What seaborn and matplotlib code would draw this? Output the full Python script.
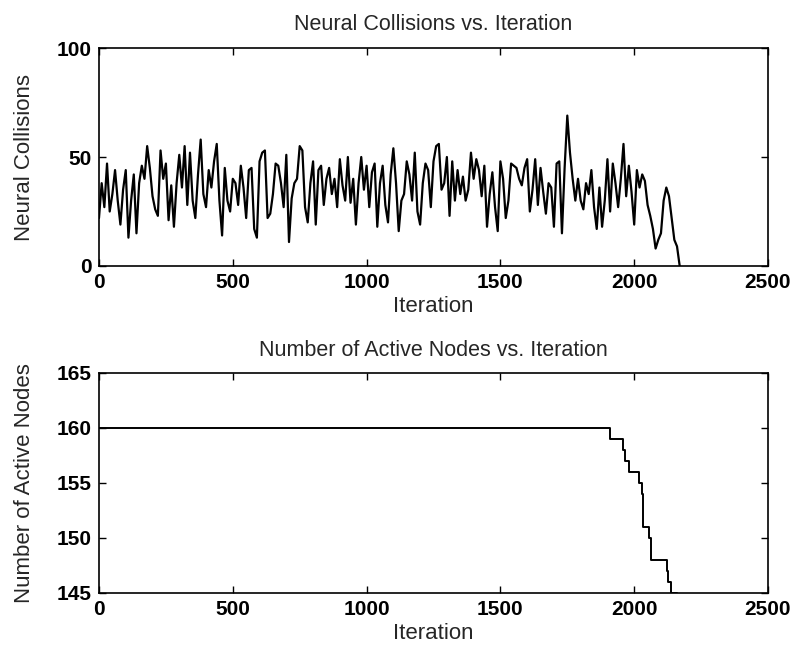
import numpy as np
import pandas as pd
import matplotlib
matplotlib.use("Agg")
import matplotlib.pyplot as plt
import seaborn as sns

# Neural collisions, sampled every 10 iterations (0 .. 2160)
collision_iter_step = 10
collisions = [
    22, 38, 27, 47, 25, 33, 44, 30, 19, 35,
    44, 13, 30, 42, 15, 38, 46, 40, 55, 45,
    32, 26, 23, 53, 40, 47, 21, 37, 18, 38,
    51, 36, 55, 28, 52, 30, 22, 42, 58, 33,
    27, 44, 36, 48, 56, 30, 14, 45, 30, 25,
    40, 38, 28, 46, 36, 22, 44, 45, 17, 13,
    48, 52, 53, 22, 24, 33, 47, 46, 38, 27,
    51, 11, 31, 38, 40, 55, 53, 27, 20, 38,
    48, 19, 44, 46, 28, 40, 45, 33, 40, 27,
    49, 37, 30, 50, 29, 40, 19, 38, 50, 35,
    46, 27, 43, 47, 18, 38, 46, 28, 20, 42,
    54, 38, 16, 30, 33, 48, 42, 30, 52, 25,
    19, 38, 47, 44, 27, 48, 55, 56, 35, 38,
    50, 23, 48, 30, 44, 33, 41, 30, 35, 52,
    40, 49, 44, 32, 46, 18, 33, 43, 27, 16,
    48, 40, 22, 30, 47, 46, 45, 40, 37, 45,
    49, 25, 35, 49, 28, 45, 34, 24, 38, 36,
    18, 47, 48, 15, 45, 69, 52, 40, 30, 40,
    30, 26, 38, 33, 44, 27, 17, 36, 18, 30,
    49, 25, 47, 38, 27, 40, 56, 32, 46, 34,
    19, 44, 36, 42, 39, 28, 23, 17, 8, 12,
    15, 30, 36, 32, 22, 12, 9, 0,
]
collision_iters = [i * collision_iter_step for i in range(len(collisions))]

# Number of active nodes: iteration at which each level starts
node_iters = [0, 1910, 1959, 1966, 1982, 2018, 2028, 2034, 2056, 2062, 2121, 2127, 2136, 2160]
active_nodes = [160, 159, 158, 157, 156, 155, 154, 151, 150, 148, 147, 146, 145, 145]

x_ticks = [0, 500, 1000, 1500, 2000, 2500]
top_yticks = [0, 50, 100]
bottom_yticks = [145, 150, 155, 160, 165]

sns.set_style("ticks")
plt.rcParams["font.family"] = ["Liberation Sans", "DejaVu Sans"]
plt.rcParams["axes.linewidth"] = 1.2
plt.rcParams["xtick.direction"] = "in"
plt.rcParams["ytick.direction"] = "in"
plt.rcParams["xtick.top"] = True
plt.rcParams["ytick.right"] = True
plt.rcParams["xtick.major.size"] = 5
plt.rcParams["ytick.major.size"] = 5

TICK_FS = 15
LABEL_FS = 16
TITLE_FS = 15.5

fig = plt.figure(figsize=(7.99, 6.55), dpi=100)
ax1 = fig.add_axes([0.1239, 0.5939, 0.8373, 0.3328])
ax2 = fig.add_axes([0.1239, 0.0947, 0.8373, 0.3359])

df_col = pd.DataFrame({"Iteration": collision_iters, "Neural Collisions": collisions})
sns.lineplot(data=df_col, x="Iteration", y="Neural Collisions", ax=ax1,
             color="black", linewidth=1.6, estimator=None, sort=False)
ax1.set_xlim(0, 2500)
ax1.set_ylim(0, 100)
ax1.set_xticks(x_ticks)
ax1.set_yticks(top_yticks)
ax1.set_title("Neural Collisions vs. Iteration", fontsize=TITLE_FS, pad=13)
ax1.set_xlabel("Iteration", fontsize=LABEL_FS, labelpad=3)
ax1.set_ylabel("Neural Collisions", fontsize=LABEL_FS)

df_nodes = pd.DataFrame({"Iteration": node_iters, "Number of Active Nodes": active_nodes})
sns.lineplot(data=df_nodes, x="Iteration", y="Number of Active Nodes", ax=ax2,
             color="black", linewidth=1.4, estimator=None, sort=False,
             drawstyle="steps-post")
ax2.set_xlim(0, 2500)
ax2.set_ylim(145, 165)
ax2.set_xticks(x_ticks)
ax2.set_yticks(bottom_yticks)
ax2.set_title("Number of Active Nodes vs. Iteration", fontsize=TITLE_FS, pad=12)
ax2.set_xlabel("Iteration", fontsize=LABEL_FS, labelpad=3)
ax2.set_ylabel("Number of Active Nodes", fontsize=LABEL_FS)

for ax in (ax1, ax2):
    for side in ("top", "right", "left", "bottom"):
        ax.spines[side].set_visible(True)
        ax.spines[side].set_color("black")
    ax.tick_params(axis="both", labelsize=TICK_FS, colors="black", width=1.0, pad=5)
    for lab in ax.get_xticklabels() + ax.get_yticklabels():
        lab.set_fontweight("bold")
    ax.yaxis.set_label_coords(-0.096, 0.5)

fig.savefig("out.png", dpi=100, facecolor="white")
